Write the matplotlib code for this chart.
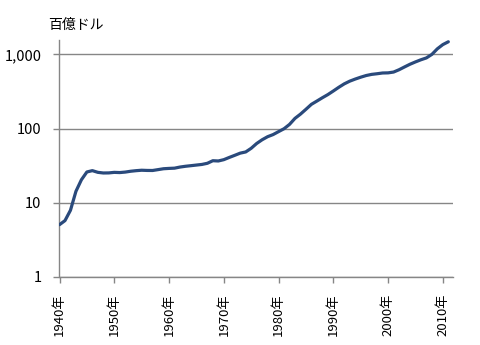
import numpy as np
import matplotlib
matplotlib.use("Agg")
import matplotlib.pyplot as plt
from matplotlib.ticker import FixedLocator, FuncFormatter, NullLocator

plt.rcParams['font.family'] = ['Noto Sans CJK JP', 'DejaVu Sans']

# 連邦債務残高（百億ドル）
years = list(range(1940, 2012))
debt = [5.07, 5.75, 7.92, 14.26, 20.41, 26.01, 27.10, 25.71, 25.20, 25.26,
        25.69, 25.53, 25.91, 26.60, 27.08, 27.44, 27.27, 27.23, 27.97, 28.75,
        29.05, 29.26, 30.29, 31.03, 31.61, 32.23, 32.85, 34.04, 36.87, 36.58,
        38.09, 40.82, 43.59, 46.63, 48.39, 54.19, 62.90, 70.64, 77.66, 82.95,
        90.90, 99.48, 113.73, 137.17, 156.46, 181.74, 212.05, 234.60, 260.11, 286.78,
        320.63, 359.82, 400.18, 435.10, 464.33, 492.06, 518.15, 536.92, 547.82, 560.55,
        562.87, 576.99, 619.84, 676.00, 735.47, 790.53, 845.14, 895.07, 998.61, 1187.59,
        1352.88, 1476.42]
xticks = [1940, 1950, 1960, 1970, 1980, 1990, 2000, 2010]
yticks = [1, 10, 100, 1000]

fig = plt.figure(figsize=(4.81, 3.45), dpi=100)
ax = fig.add_axes([59.5 / 481, 68 / 345, (452.7 - 59.5) / 481, (277 - 40) / 345])

gray = '#868686'
ax.plot(years, debt, color='#2a4a7c', lw=2.3, solid_capstyle='round', zorder=3)

ax.set_yscale('log')
ax.set_ylim(1, 1560)
ax.set_xlim(1940, 2011.8)

ax.yaxis.set_major_locator(FixedLocator(yticks))
ax.yaxis.set_minor_locator(NullLocator())
ax.yaxis.set_major_formatter(FuncFormatter(lambda v, p: f'{int(round(v)):,}'))
ax.set_xticks(xticks)
ax.set_xticklabels([f'{y}年' for y in xticks], rotation=90)

ax.grid(axis='y', color=gray, lw=1)
ax.set_axisbelow(True)
for s in ['top', 'right']:
    ax.spines[s].set_visible(False)
for s in ['left', 'bottom']:
    ax.spines[s].set_color(gray)
    ax.spines[s].set_linewidth(1)
ax.tick_params(axis='both', colors=gray, labelcolor='black',
               length=4, width=1, direction='out')
ax.tick_params(axis='y', pad=9, labelsize=10.5)
ax.tick_params(axis='x', pad=8, labelsize=9.5)

fig.text(48 / 481, 1 - 25 / 345, '百億ドル', fontsize=10, va='center', ha='left')

fig.savefig('out.png', dpi=100)
